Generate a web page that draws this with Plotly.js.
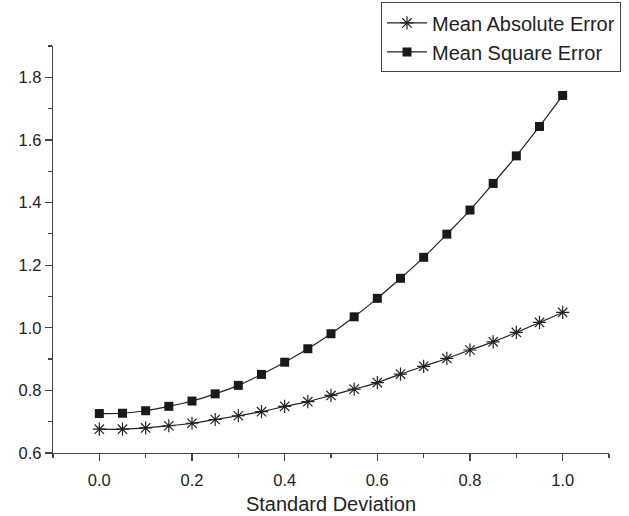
<!DOCTYPE html>
<html>
<head>
<meta charset="utf-8">
<script src="https://cdn.plot.ly/plotly-3.0.1.min.js"></script>
<style>html,body{margin:0;padding:0;background:#fff;}</style>
</head>
<body>
<div id="chart" style="width:629px;height:516px;"></div>
<script>
const stdDev = [0.0,0.05,0.1,0.15,0.2,0.25,0.3,0.35,0.4,0.45,0.5,0.55,0.6,0.65,0.7,0.75,0.8,0.85,0.9,0.95,1.0];
const meanAbsoluteError = [0.676,0.676,0.680,0.687,0.695,0.707,0.719,0.732,0.749,0.764,0.784,0.804,0.825,0.852,0.877,0.902,0.929,0.955,0.985,1.017,1.049];
const meanSquareError = [0.726,0.727,0.735,0.749,0.766,0.789,0.816,0.851,0.890,0.933,0.981,1.035,1.094,1.158,1.225,1.299,1.376,1.461,1.549,1.643,1.742];
const seriesNames = ["Mean Absolute Error","Mean Square Error"];

const traces = [
  {
    x: stdDev, y: meanAbsoluteError, name: seriesNames[0],
    mode: 'lines+markers', type: 'scatter',
    line: {color: '#222', width: 1.2, shape: 'spline'},
    marker: {symbol: 'asterisk-open', size: 11, color: '#222', line: {color: '#333', width: 1.2}}
  },
  {
    x: stdDev, y: meanSquareError, name: seriesNames[1],
    mode: 'lines+markers', type: 'scatter',
    line: {color: '#222', width: 1.2, shape: 'spline'},
    marker: {symbol: 'square', size: 9, color: '#1a1a1a'}
  }
];

const font = {family: 'Liberation Sans, Arial, sans-serif', color: '#222'};

const layout = {
  width: 629, height: 516,
  margin: {l: 53, r: 20, t: 46, b: 63, autoexpand: false},
  paper_bgcolor: '#fff', plot_bgcolor: '#fff',
  font: font,
  showlegend: true,
  legend: {
    x: 1.0216, y: 1.107, xanchor: 'right', yanchor: 'top',
    bordercolor: '#444', borderwidth: 1, bgcolor: '#fff',
    font: {family: font.family, size: 20, color: '#222'},
    tracegroupgap: 0, itemwidth: 40
  },
  xaxis: {
    range: [-0.1, 1.1], tick0: 0, dtick: 0.2, tickformat: '.1f',
    showgrid: false, zeroline: false, showline: true, linecolor: '#444', linewidth: 1.2,
    ticks: 'outside', ticklen: 7, tickwidth: 1.2, tickcolor: '#444',
    ticklabelstandoff: 5,
    minor: {tick0: 0, dtick: 0.1, ticks: 'outside', ticklen: 4, tickwidth: 1.2, tickcolor: '#444', showgrid: false},
    tickfont: {family: font.family, size: 16.5, color: '#222'},
    title: {text: 'Standard Deviation', font: {family: font.family, size: 20, color: '#222'}, standoff: 9}
  },
  yaxis: {
    range: [0.6, 1.9], tick0: 0.6, dtick: 0.2, tickformat: '.1f',
    showgrid: false, zeroline: false, showline: true, linecolor: '#444', linewidth: 1.2,
    ticks: 'outside', ticklen: 7, tickwidth: 1.2, tickcolor: '#444',
    minor: {tick0: 0.6, dtick: 0.1, ticks: 'outside', ticklen: 4, tickwidth: 1.2, tickcolor: '#444', showgrid: false},
    tickfont: {family: font.family, size: 16.5, color: '#222'}
  }
};

Plotly.newPlot('chart', traces, layout, {displayModeBar: false, staticPlot: true});
</script>
</body>
</html>
